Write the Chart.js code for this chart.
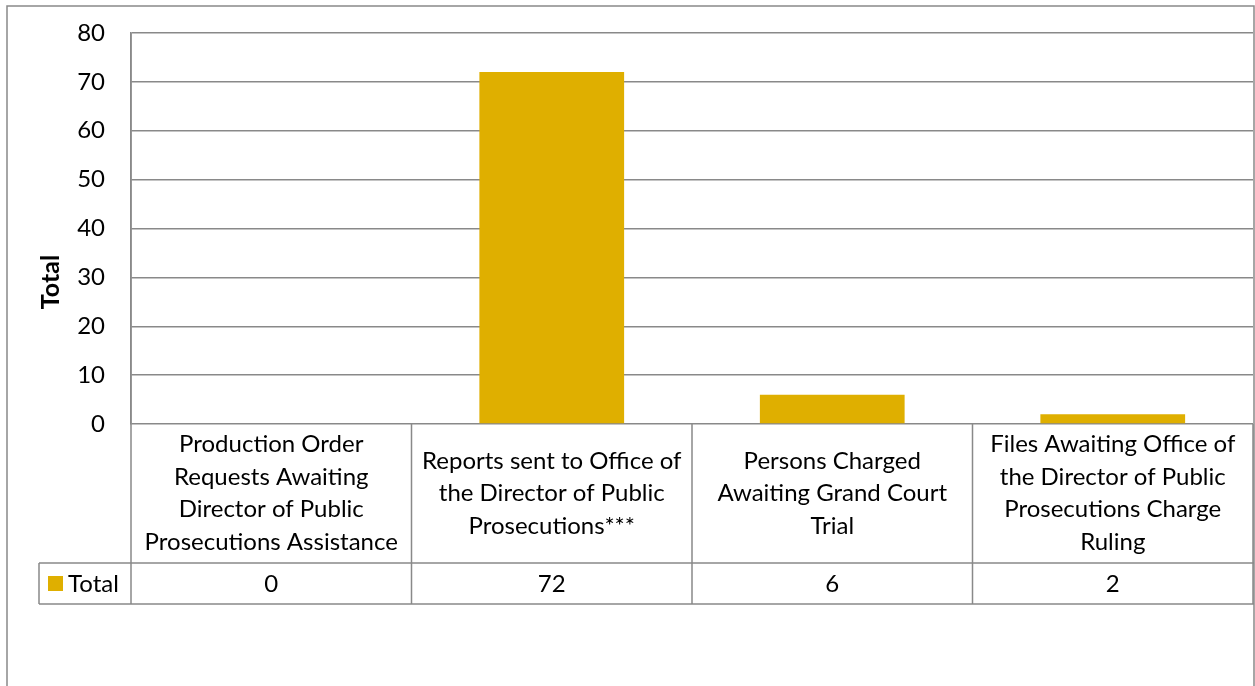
<!DOCTYPE html>
<html>
<head>
<meta charset="utf-8">
<script src="https://cdn.jsdelivr.net/npm/chart.js@4/dist/chart.umd.min.js"></script>
<style>
  html, body { margin: 0; padding: 0; background: #fff; }
  #wrap { width: 1255px; height: 686px; }
</style>
</head>
<body>
<div id="wrap"><canvas id="myChart" width="1255" height="686"></canvas></div>
<script>
// data
var categories = [
  ["Production Order", "Requests Awaiting", "Director of Public", "Prosecutions Assistance"],
  ["Reports sent to Office of", "the Director of Public", "Prosecutions***"],
  ["Persons Charged", "Awaiting Grand Court", "Trial"],
  ["Files Awaiting Office of", "the Director of Public", "Prosecutions Charge", "Ruling"]
];
var totals = [0, 72, 6, 2];
var seriesName = "Total";
var yTitle = "Total";
var yTicks = [0, 10, 20, 30, 40, 50, 60, 70, 80];

var gridColor = "#898989";
var barColor = "#DFAF00";
var fontFamily = "Lato, 'Open Sans', sans-serif";
var fontSize = 24;

// draws the excel style data table under the plot
var tablePlugin = {
  id: "dataTable",
  beforeDraw: function (chart) {
    var ctx = chart.ctx;
    ctx.save();
    ctx.strokeStyle = gridColor;
    ctx.lineWidth = 1.5;
    ctx.strokeRect(7, 6, 1247, 700);
    ctx.restore();
  },
  afterDraw: function (chart) {
    var ctx = chart.ctx;
    var x = chart.scales.x;
    var area = chart.chartArea;
    var n = categories.length;
    var w = (x.right - x.left) / n;
    var rowTop = area.bottom;
    var rowMid = 563;
    var rowBot = 604;
    var legLeft = 39;

    ctx.save();
    ctx.strokeStyle = gridColor;
    ctx.lineWidth = 1.5;
    ctx.beginPath();
    // horizontals
    ctx.moveTo(legLeft, rowMid); ctx.lineTo(x.right + 1, rowMid);
    ctx.moveTo(legLeft, rowBot); ctx.lineTo(x.right + 1, rowBot);
    // verticals
    ctx.moveTo(legLeft, rowMid); ctx.lineTo(legLeft, rowBot);
    ctx.moveTo(x.left, area.top); ctx.lineTo(x.left, rowBot);
    for (var i = 1; i <= n; i++) {
      var bx = x.left + i * w;
      ctx.moveTo(bx, rowTop); ctx.lineTo(bx, rowBot);
    }
    ctx.stroke();

    ctx.fillStyle = "#000";
    ctx.font = fontSize + "px " + fontFamily;
    ctx.textAlign = "center";
    ctx.textBaseline = "middle";
    var lh = 32.5;
    var midY = (rowTop + rowMid) / 2;
    categories.forEach(function (lines, i) {
      var cx = x.getPixelForValue(i);
      var y0 = midY - (lines.length - 1) * lh / 2;
      lines.forEach(function (t, j) {
        ctx.fillText(t, cx, y0 + j * lh);
      });
      ctx.fillText(String(totals[i]), cx, (rowMid + rowBot) / 2 + 1);
    });

    // legend key cell
    ctx.fillStyle = barColor;
    ctx.fillRect(48, 576, 15, 15);
    ctx.fillStyle = "#000";
    ctx.textAlign = "left";
    ctx.fillText(seriesName, 68, (rowMid + rowBot) / 2 + 1);

    // axis title, sits lower than the plot centre like the original
    ctx.translate(50, 282);
    ctx.rotate(-Math.PI / 2);
    ctx.textAlign = "center";
    ctx.font = "bold 25px " + fontFamily;
    ctx.fillText(yTitle, 0, 1);
    ctx.restore();
  }
};

new Chart("myChart", {
  type: "bar",
  data: {
    labels: categories,
    datasets: [{
      label: seriesName,
      data: totals,
      backgroundColor: barColor,
      barPercentage: 0.645,
      categoryPercentage: 0.8
    }]
  },
  options: {
    responsive: false,
    animation: false,
    layout: { padding: { left: 7, top: 33, right: 2, bottom: 262 } },
    plugins: { legend: { display: false }, tooltip: { enabled: false } },
    scales: {
      x: {
        display: false,
        offset: true
      },
      y: {
        min: 0,
        max: 80,
        afterFit: function (s) {
          s.width = 124;
          s.paddingTop = 0;
          s.paddingBottom = 0;
        },
        afterBuildTicks: function (s) {
          s.ticks = yTicks.map(function (v) { return { value: v }; });
        },
        ticks: {
          padding: 26,
          color: "#000",
          font: { family: fontFamily, size: fontSize }
        },
        grid: { color: gridColor, lineWidth: 1.5, drawTicks: false },
        border: { display: true, color: gridColor, width: 1.5 }
      }
    }
  },
  plugins: [tablePlugin]
});
</script>
</body>
</html>
